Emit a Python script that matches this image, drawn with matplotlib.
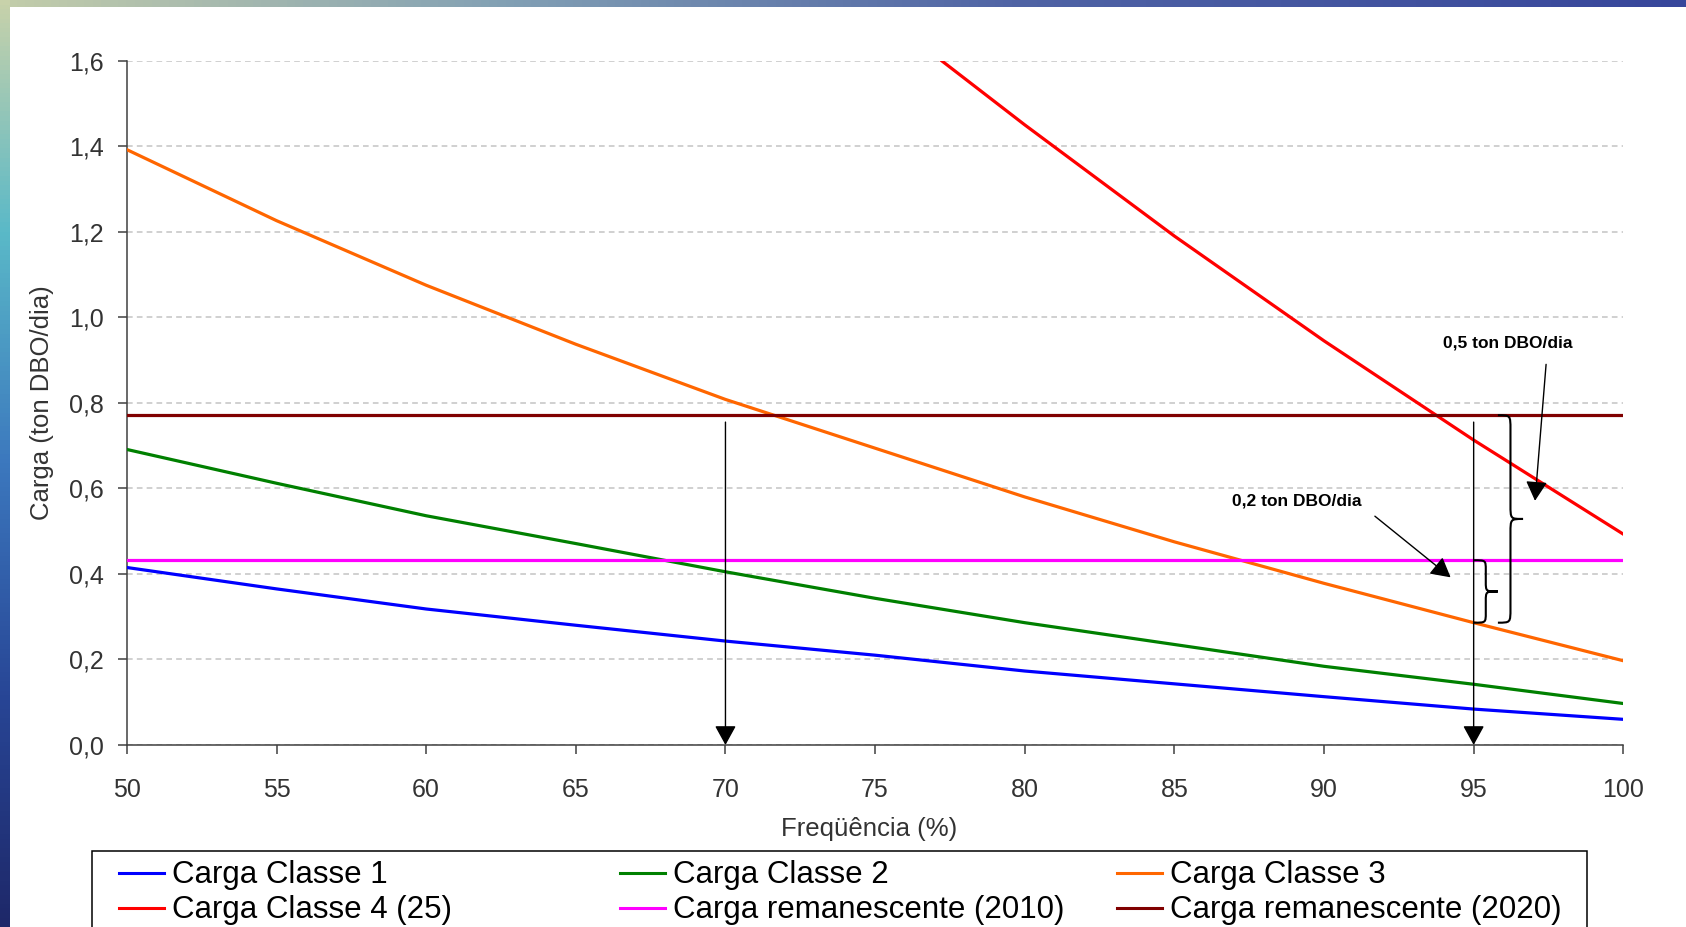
import numpy as np
import matplotlib
matplotlib.use('Agg')
import matplotlib.pyplot as plt
from matplotlib.path import Path
from matplotlib.patches import PathPatch, Rectangle
from matplotlib.ticker import FuncFormatter

plt.rcParams['font.family'] = ['Liberation Sans', 'DejaVu Sans']

# dados
freq = [50, 55, 60, 65, 70, 75, 80, 85, 90, 95, 100]
classe1 = [0.415, 0.365, 0.318, 0.280, 0.243, 0.210, 0.173, 0.143, 0.113, 0.084, 0.060]
classe2 = [0.691, 0.612, 0.536, 0.471, 0.405, 0.343, 0.286, 0.235, 0.184, 0.142, 0.097]
classe3 = [1.392, 1.226, 1.075, 0.937, 0.808, 0.694, 0.580, 0.475, 0.378, 0.286, 0.197]
classe4 = [np.nan, np.nan, np.nan, np.nan, 1.99, 1.72, 1.45, 1.19, 0.945, 0.713, 0.493]
rem_2010 = 0.432
rem_2020 = 0.771

freq_marcadas = [70, 95]
topo_setas = 0.755

labels = ['Carga Classe 1', 'Carga Classe 2', 'Carga Classe 3',
          'Carga Classe 4 (25)', 'Carga remanescente (2010)', 'Carga remanescente (2020)']
colors = ['#0000ff', '#008000', '#ff6600', '#ff0000', '#ff00ff', '#800000']

yticks = [0.0, 0.2, 0.4, 0.6, 0.8, 1.0, 1.2, 1.4, 1.6]
xticks = [50, 55, 60, 65, 70, 75, 80, 85, 90, 95, 100]

W, H = 1686, 927
fig = plt.figure(figsize=(W / 100, H / 100), dpi=100)

# fundo (moldura do slide) em coordenadas de pixel
bg = fig.add_axes([0, 0, 1, 1], zorder=0)
bg.set_xlim(0, W)
bg.set_ylim(H, 0)
bg.axis('off')
tx = np.linspace(0, 1, 200)
top_r = np.interp(tx, [0, 0.3, 0.6, 1], [195, 130, 80, 55])
top_g = np.interp(tx, [0, 0.3, 0.6, 1], [205, 160, 100, 70])
top_b = np.interp(tx, [0, 0.3, 0.6, 1], [170, 180, 165, 155])
top_img = np.stack([top_r, top_g, top_b], axis=-1)[None, :, :] / 255
bg.imshow(top_img, extent=[0, W, 8, 0], aspect='auto')
ty = np.linspace(0, 1, 200)
left_r = np.interp(ty, [0, 0.25, 0.5, 0.75, 1], [200, 90, 60, 40, 30])
left_g = np.interp(ty, [0, 0.25, 0.5, 0.75, 1], [210, 185, 120, 70, 40])
left_b = np.interp(ty, [0, 0.25, 0.5, 0.75, 1], [170, 200, 190, 150, 105])
left_img = np.stack([left_r, left_g, left_b], axis=-1)[:, None, :] / 255
bg.imshow(left_img, extent=[0, 10, H, 0], aspect='auto')
bg.add_patch(Rectangle((10, 7), W - 10, H, facecolor='white', edgecolor='none'))

# grafico principal
ax = fig.add_axes([126.9 / W, 1 - 745 / H, 1496.4 / W, 684.3 / H], zorder=1)
ax.set_facecolor('white')

series = [classe1, classe2, classe3, classe4]
for i in range(4):
    ax.plot(freq, series[i], color=colors[i], lw=2.3, label=labels[i], zorder=3)
ax.axhline(rem_2010, color=colors[4], lw=2.3, zorder=3)
ax.axhline(rem_2020, color=colors[5], lw=2.3, zorder=3)

ax.set_xlim(50, 100)
ax.set_ylim(0, 1.6)
ax.set_xticks(xticks)
ax.set_yticks(yticks)
ax.yaxis.set_major_formatter(FuncFormatter(lambda v, p: ('%.1f' % v).replace('.', ',')))
ax.grid(axis='y', color='#c8c8c8', linestyle=(0, (3.4, 2.5)), linewidth=1.2)
ax.set_axisbelow(True)
for s in ['top', 'right']:
    ax.spines[s].set_visible(False)
for s in ['left', 'bottom']:
    ax.spines[s].set_color('#404040')
    ax.spines[s].set_linewidth(1.1)
ax.tick_params(axis='y', direction='out', length=6.5, width=1.1, color='#404040',
               labelsize=18, labelcolor='#333333', pad=10)
ax.tick_params(axis='x', direction='out', length=6.5, width=1.1, color='#404040',
               labelsize=18, labelcolor='#333333', pad=17)

ax.set_xlabel('Freqüência (%)', fontsize=18.5, color='#333333')
ax.xaxis.label.set_va('center')
ax.xaxis.set_label_coords(0.496, -84 / 684.3)
ax.set_ylabel('Carga (ton DBO/dia)', fontsize=18.5, color='#333333')
ax.yaxis.label.set_va('center')
ax.yaxis.set_label_coords(-84.4 / 1496.4, 0.5)

# setas verticais em 70% e 95%
seta = dict(arrowstyle='-|>,head_length=0.6,head_width=0.33', color='black',
            lw=1.0, shrinkA=0, shrinkB=0, mutation_scale=20)
for f in freq_marcadas:
    ax.annotate('', xy=(f, 0), xytext=(f, topo_setas), arrowprops=seta,
                annotation_clip=False, zorder=4)


def chave(x0, y_top, y_bot, w, q):
    xm = x0 + w / 2
    ym = (y_top + y_bot) / 2
    verts = [(x0, y_top), (xm, y_top), (xm, y_top), (xm, y_top - q),
             (xm, ym + q), (xm, ym), (xm, ym), (x0 + w, ym),
             (xm, ym), (xm, ym), (xm, ym - q),
             (xm, y_bot + q), (xm, y_bot), (xm, y_bot), (x0, y_bot)]
    codes = [Path.MOVETO, Path.CURVE4, Path.CURVE4, Path.CURVE4,
             Path.LINETO, Path.CURVE4, Path.CURVE4, Path.CURVE4,
             Path.CURVE4, Path.CURVE4, Path.CURVE4,
             Path.LINETO, Path.CURVE4, Path.CURVE4, Path.CURVE4]
    ax.add_patch(PathPatch(Path(verts, codes), fill=False, lw=1.5,
                           edgecolor='black', zorder=4, clip_on=False))


chave(95.0, rem_2010, classe3[9], 0.81, 0.023)
chave(95.81, rem_2020, classe3[9], 0.84, 0.033)

ax.text(93.97, 0.939, '0,5 ton DBO/dia', fontsize=12.5, fontweight='bold',
        ha='left', va='center', zorder=5)
ax.text(86.91, 0.571, '0,2 ton DBO/dia', fontsize=12.5, fontweight='bold',
        ha='left', va='center', zorder=5)
ax.annotate('', xy=(97.05, 0.571), xytext=(97.42, 0.890), arrowprops=seta, zorder=5)
ax.annotate('', xy=(94.23, 0.392), xytext=(91.70, 0.535), arrowprops=seta, zorder=5)

# legenda (caixa recortada na borda inferior)
bg.add_patch(Rectangle((91.7, 851), 1587 - 91.7, 120, facecolor='white',
                       edgecolor='black', lw=1.1, zorder=2))
col_x = [119, 620, 1117]
row_y = [873.3, 908.3]
for i in range(6):
    c = i % 3
    r = i // 3
    bg.plot([col_x[c], col_x[c] + 45], [row_y[r], row_y[r]], color=colors[i], lw=2.2, zorder=3)
    bg.text(col_x[c] + 53, row_y[r] + 10, labels[i], fontsize=22.5, color='black',
            ha='left', va='baseline', zorder=3)

fig.savefig('out.png', dpi=100)
